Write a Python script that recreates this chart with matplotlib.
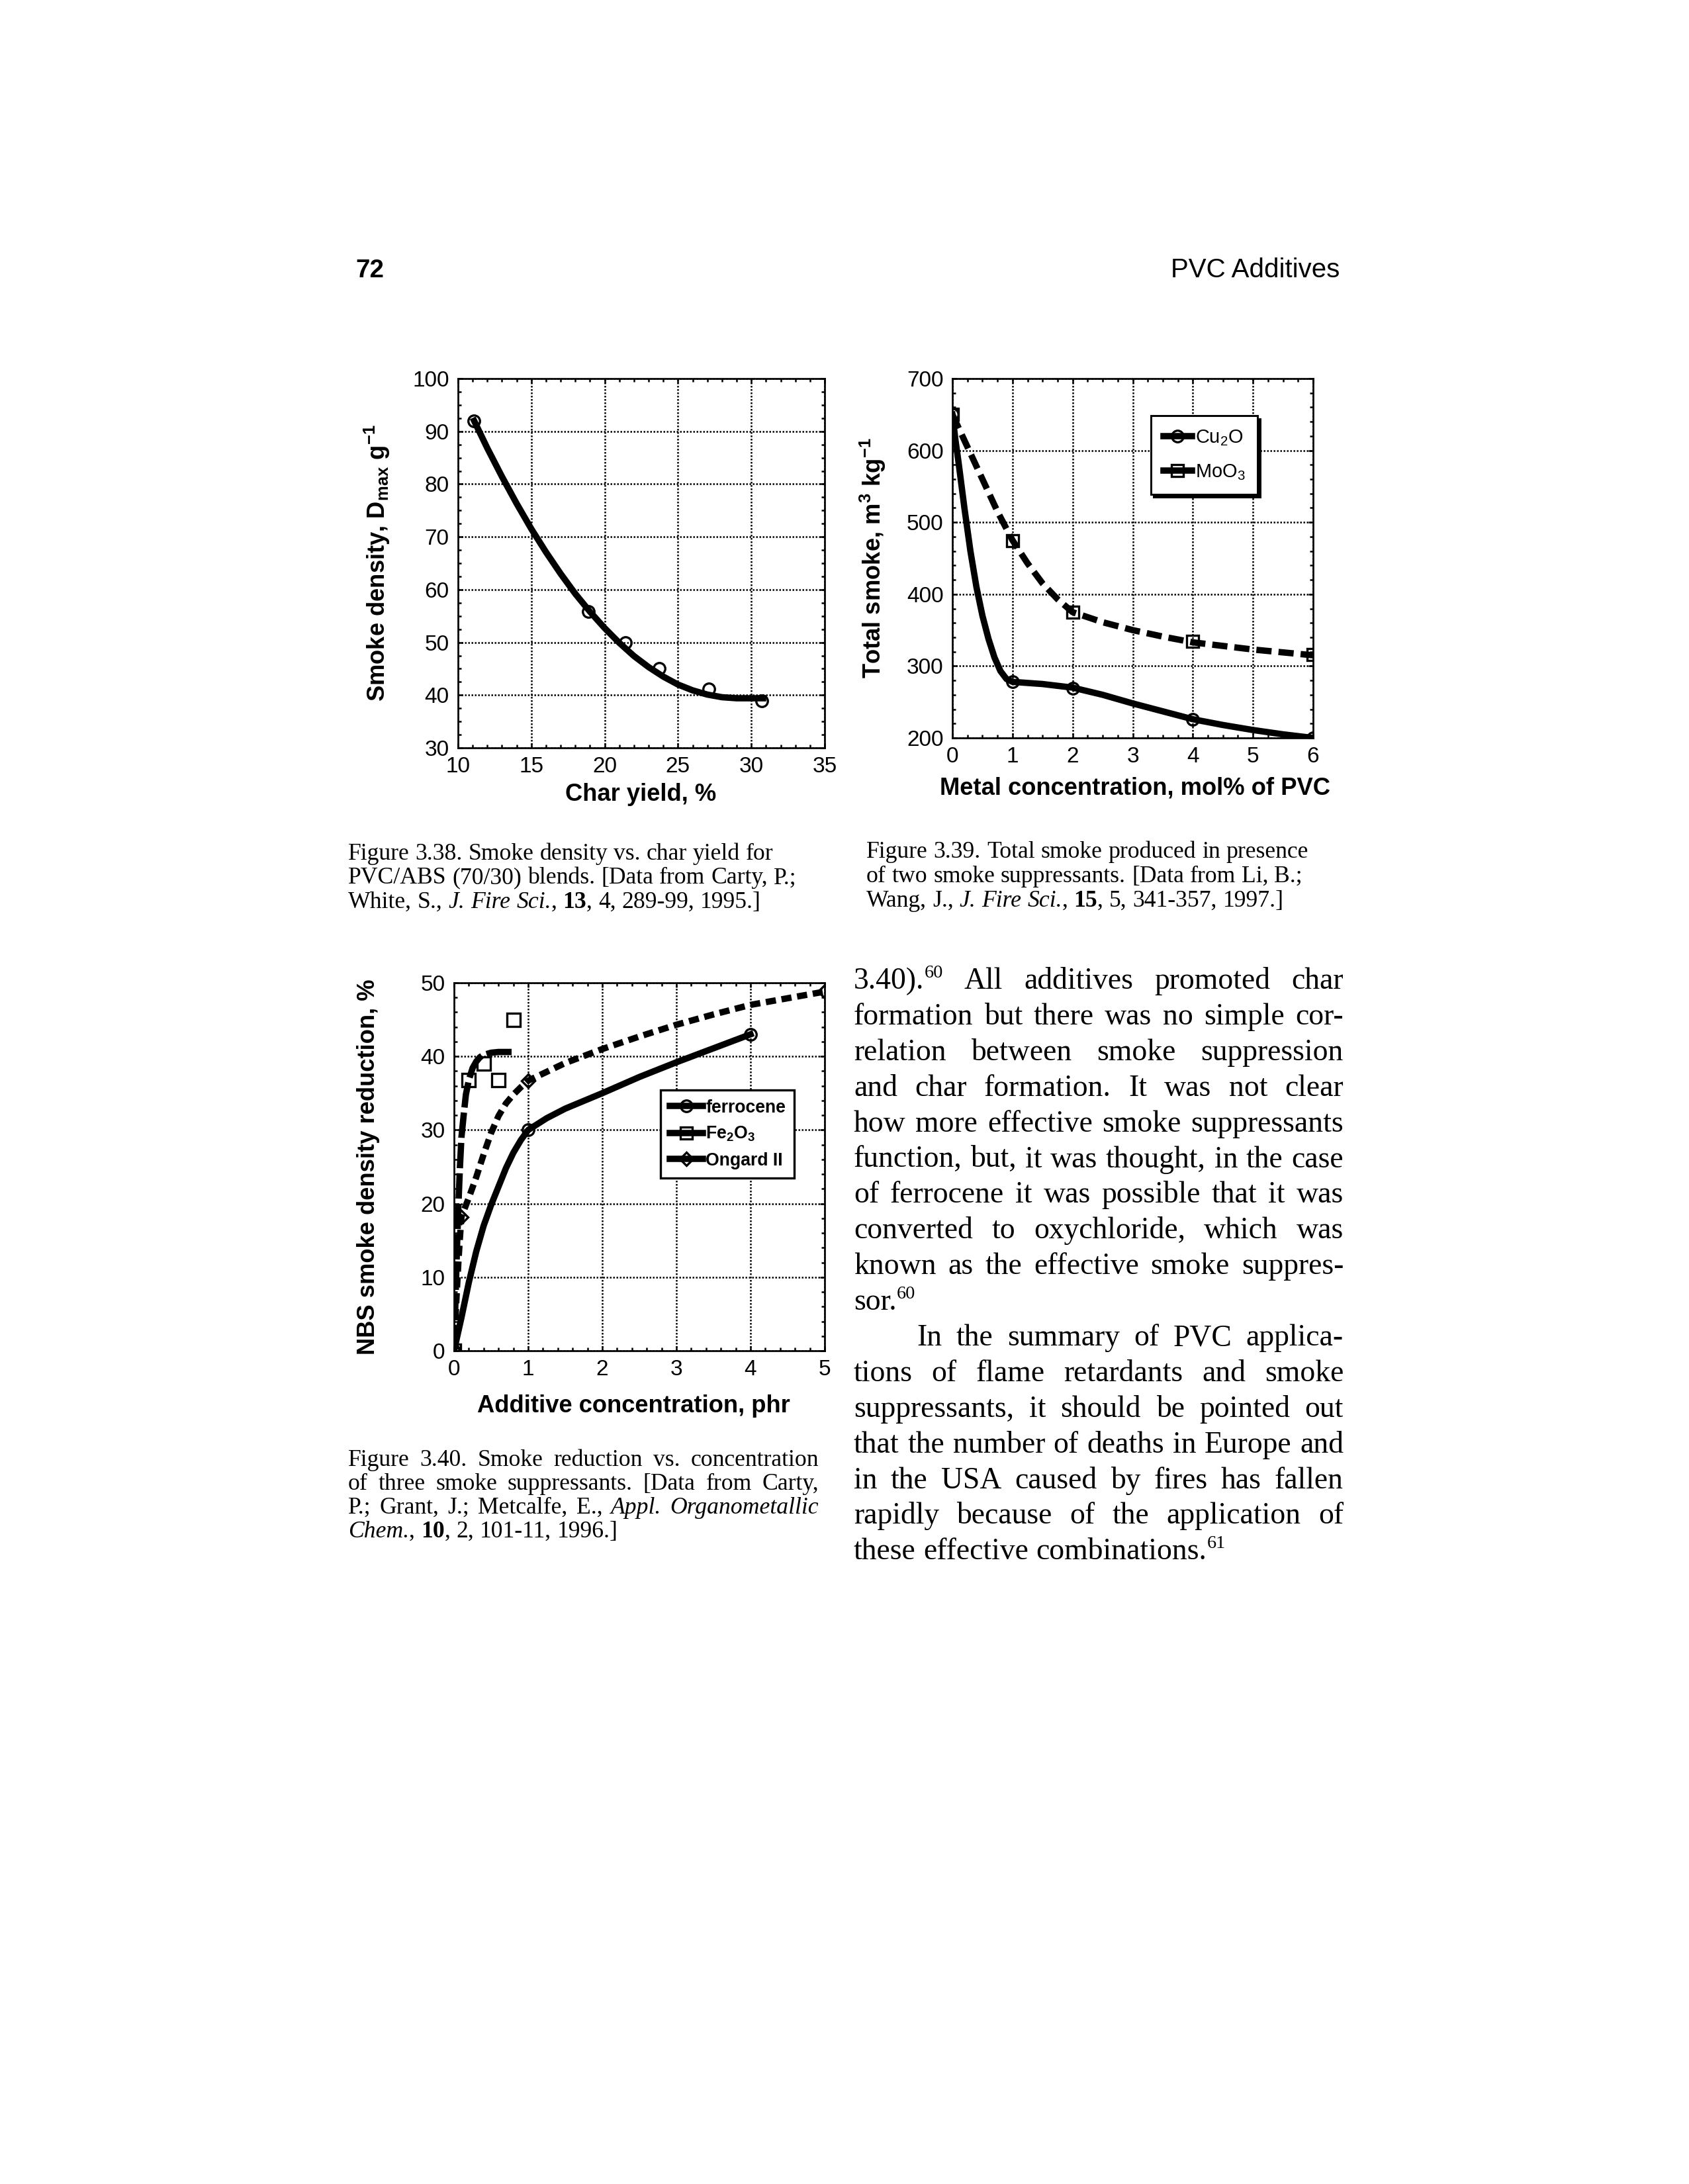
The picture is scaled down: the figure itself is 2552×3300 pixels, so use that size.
import matplotlib
matplotlib.use("Agg")
import matplotlib.pyplot as plt
from matplotlib import font_manager
from matplotlib.ticker import MultipleLocator
from matplotlib.lines import Line2D

W, H, DPI = 2552, 3300, 300

# ---------------- data ----------------
# Figure 3.38 : smoke density vs char yield
char_yield = [11.1, 18.9, 21.4, 23.7, 27.1, 30.7]
smoke_density = [92.0, 55.8, 50.0, 45.0, 41.2, 38.9]
fit38_x = [11.1, 12, 13, 14, 15, 16, 17, 18, 19, 20, 21, 22, 23, 24, 25, 26, 27, 28, 29, 30, 30.8]
fit38_y = [92.0, 86.8, 81.4, 76.3, 71.5, 67.1, 63.0, 59.2, 55.8, 52.7, 49.9, 47.4, 45.3, 43.5,
           42.0, 40.9, 40.1, 39.6, 39.4, 39.4, 39.4]
fig38_xticks = [10, 15, 20, 25, 30, 35]
fig38_yticks = [30, 40, 50, 60, 70, 80, 90, 100]

# Figure 3.39 : total smoke vs metal concentration
metal_conc = [0, 1, 2, 4, 6]
cu2o_smoke = [650, 278, 269, 226, 200]
moo3_smoke = [650, 474, 375, 334, 316]
cu2o_curve_x = [0, 0.05, 0.1, 0.2, 0.3, 0.4, 0.5, 0.6, 0.7, 0.8, 0.9, 1.0, 1.5, 2.0, 2.5, 3.0,
                3.5, 4.0, 4.5, 5.0, 5.5, 6.0]
cu2o_curve_y = [650, 615, 585, 520, 460, 410, 370, 338, 312, 293, 282, 278, 275, 270, 260, 248,
                237, 226, 218, 211, 205, 200]
moo3_curve_x = [0, 0.25, 0.5, 0.75, 1.0, 1.25, 1.5, 1.75, 2.0, 2.5, 3.0, 3.5, 4.0, 4.5, 5.0, 5.5, 6.0]
moo3_curve_y = [650, 605, 560, 515, 475, 443, 415, 393, 375, 361, 350, 341, 333, 328, 323, 319, 315]
fig39_xticks = [0, 1, 2, 3, 4, 5, 6]
fig39_yticks = [200, 300, 400, 500, 600, 700]

# Figure 3.40 : smoke reduction vs additive concentration
ferro_x = [0, 1, 4]
ferro_y = [0, 30.0, 43.0]
ferro_curve_x = [0, 0.1, 0.2, 0.3, 0.4, 0.5, 0.6, 0.7, 0.8, 0.9, 1.0, 1.25, 1.5, 2.0, 2.5, 3.0, 3.5, 4.0]
ferro_curve_y = [0, 4.5, 9.3, 13.5, 17.0, 19.8, 22.3, 24.8, 26.9, 28.6, 30.0, 31.6, 32.9, 35.0,
                 37.2, 39.2, 41.1, 43.0]
fe2o3_x = [0, 0.2, 0.4, 0.6, 0.8]
fe2o3_y = [0, 36.8, 39.0, 36.8, 45.0]
fe2o3_curve_x = [0, 0.02, 0.04, 0.06, 0.08, 0.1, 0.13, 0.16, 0.2, 0.25, 0.3, 0.35, 0.4, 0.5, 0.6, 0.7, 0.8]
fe2o3_curve_y = [0, 7.0, 14.0, 20.0, 25.0, 29.0, 32.0, 34.8, 36.8, 38.4, 39.3, 39.9, 40.2, 40.5,
                 40.6, 40.6, 40.6]
ongard_x = [0, 0.1, 1, 5]
ongard_y = [0, 18.2, 36.7, 48.8]
ongard_curve_x = [0, 0.02, 0.04, 0.06, 0.08, 0.1, 0.15, 0.2, 0.3, 0.4, 0.5, 0.6, 0.7, 0.8, 0.9, 1.0,
                  1.5, 2.0, 2.5, 3.0, 3.5, 4.0, 4.5, 5.0]
ongard_curve_y = [0, 4.5, 8.5, 12.2, 15.4, 18.2, 19.5, 20.8, 23.6, 26.7, 29.6, 31.9, 33.6, 34.8,
                  35.8, 36.7, 39.1, 41.0, 42.7, 44.3, 45.7, 47.0, 47.9, 48.8]
fig40_xticks = [0, 1, 2, 3, 4, 5]
fig40_yticks = [0, 10, 20, 30, 40, 50]

# ---------------- text ----------------
header_left = "72"
header_right = "PVC Additives"
caption38 = ["Figure 3.38. Smoke density vs. char yield for",
             "PVC/ABS (70/30) blends. [Data from Carty, P.;",
             "White, S., *J. Fire Sci.*, #13#, 4, 289-99, 1995.]"]
caption39 = ["Figure 3.39. Total smoke produced in presence",
             "of two smoke suppressants. [Data from Li, B.;",
             "Wang, J., *J. Fire Sci.*, #15#, 5, 341-357, 1997.]"]
caption40 = ["Figure 3.40. Smoke reduction vs. concentration",
             "of three smoke suppressants. [Data from Carty,",
             "P.; Grant, J.; Metcalfe, E., *Appl. Organometallic*",
             "*Chem.*, #10#, 2, 101-11, 1996.]"]
body = ["3.40).^60^ All additives promoted char",
        "formation but there was no simple cor-",
        "relation between smoke suppression",
        "and char formation. It was not clear",
        "how more effective smoke suppressants",
        "function, but, it was thought, in the case",
        "of ferrocene it was possible that it was",
        "converted to oxychloride, which was",
        "known as the effective smoke suppres-",
        "sor.^60^",
        "In the summary of PVC applica-",
        "tions of flame retardants and smoke",
        "suppressants, it should be pointed out",
        "that the number of deaths in Europe and",
        "in the USA caused by fires has fallen",
        "rapidly because of the application of",
        "these effective combinations.^61^"]
body_ragged = {9, 16}
body_indent = {10}

# ---------------- fonts ----------------
names = {f.name for f in font_manager.fontManager.ttflist}
NARROW = "Liberation Sans Narrow" in names
SANS_N = "Liberation Sans Narrow" if NARROW else "Liberation Sans"
NK = 1.0 if NARROW else 0.84
SERIF = "Liberation Serif"

plt.rcParams["font.family"] = ["Liberation Sans", "DejaVu Sans"]
plt.rcParams["mathtext.default"] = "regular"

fig = plt.figure(figsize=(W / DPI, H / DPI), dpi=DPI)
fig.patch.set_facecolor("white")
renderer = fig.canvas.get_renderer()
PT = DPI / 72.0


def fx(x):
    return x / W


def fy(y):
    return 1 - y / H


def axes_px(l, t, r, b):
    ax = fig.add_axes([l / W, 1 - b / H, (r - l) / W, (b - t) / H])
    ax._px = (l, t, r, b)
    return ax


def style(ax, xt, xminor, yt, yminor):
    ax.set_xticks(xt)
    ax.set_yticks(yt)
    ax.xaxis.set_minor_locator(MultipleLocator(xminor))
    ax.yaxis.set_minor_locator(MultipleLocator(yminor))
    ax.tick_params(which="both", direction="in", top=True, right=True, width=0.6,
                   labelsize=8, pad=3.2)
    ax.tick_params(which="major", length=1.6)
    ax.tick_params(which="minor", length=1.3)
    ax.grid(True, which="major", ls=(0, (1, 1)), lw=0.6, color="k")
    for s in ax.spines.values():
        s.set_linewidth(0.65)
    ax.set_axisbelow(False)


def label_px(ax, x, y, text, rot=0, size=10.4):
    l, t, r, b = ax._px
    ax.text((x - l) / (r - l), (b - y) / (b - t), text, transform=ax.transAxes,
            rotation=rot, ha="center", va="center", fontsize=size * NK,
            family=[SANS_N, "DejaVu Sans"], weight="bold", clip_on=False)


MK = dict(mfc="none", mec="k", mew=0.8)

# ---------------- Figure 3.38 ----------------
ax1 = axes_px(692, 572, 1246, 1130)
ax1.plot(fit38_x, fit38_y, color="k", lw=2.3, zorder=3)
ax1.plot(char_yield, smoke_density, ls="none", marker="o", ms=4.2, zorder=4, **MK)
ax1.set_xlim(10, 35)
ax1.set_ylim(30, 100)
style(ax1, fig38_xticks, 1, fig38_yticks, 2.5)
label_px(ax1, 570, 851, r"Smoke density, D$_{max}$ g$^{-1}$", rot=90, size=10.4)
label_px(ax1, 968, 1201, "Char yield, %")

# ---------------- Figure 3.39 ----------------
ax2 = axes_px(1439, 572, 1984, 1115)
ax2.plot(moo3_curve_x, moo3_curve_y, color="k", lw=2.3, ls=(0, (2.4, 1.1)), zorder=3)
ax2.plot(cu2o_curve_x, cu2o_curve_y, color="k", lw=2.3, zorder=3)
ax2.plot(metal_conc, moo3_smoke, ls="none", marker="s", ms=4.4, zorder=4, **MK)
ax2.plot(metal_conc, cu2o_smoke, ls="none", marker="o", ms=4.2, zorder=4, **MK)
ax2.set_xlim(0, 6)
ax2.set_ylim(200, 700)
style(ax2, fig39_xticks, 0.25, fig39_yticks, 20)
label_px(ax2, 1319, 843, r"Total smoke, m$^3$ kg$^{-1}$", rot=90, size=10.4)
label_px(ax2, 1715, 1191, "Metal concentration, mol% of PVC")
h_cu = Line2D([], [], color="k", lw=2.3, marker="o", ms=4.2, **MK)
h_mo = Line2D([], [], color="k", lw=2.3, marker="s", ms=4.4, **MK)
leg2 = ax2.legend([h_cu, h_mo], ["Cu$_2$O", "MoO$_3$"], loc="upper left",
                  bbox_to_anchor=(3.3 / 6, (648 - 200) / 500), borderaxespad=0,
                  prop={"family": [SANS_N, "DejaVu Sans"], "size": 8.3 * NK},
                  handlelength=1.5, handletextpad=0.15, labelspacing=0.8, borderpad=0.65,
                  fancybox=False, framealpha=1, edgecolor="k",
                  shadow={"color": "k", "alpha": 1, "ox": 1.0, "oy": -1.0})
leg2.get_frame().set_linewidth(0.7)

# ---------------- Figure 3.40 ----------------
ax3 = axes_px(686, 1485, 1246, 2041)
ax3.plot(ongard_curve_x, ongard_curve_y, color="k", lw=2.3, ls=(0, (1.6, 0.9)), zorder=3)
ax3.plot(fe2o3_curve_x, fe2o3_curve_y, color="k", lw=2.3, ls=(0, (4.0, 0.8)), zorder=3)
ax3.plot(ferro_curve_x, ferro_curve_y, color="k", lw=2.3, zorder=3)
ax3.plot(ongard_x, ongard_y, ls="none", marker="D", ms=3.3, zorder=4, **MK)
ax3.plot(fe2o3_x, fe2o3_y, ls="none", marker="s", ms=4.8, zorder=4, **MK)
ax3.plot(ferro_x, ferro_y, ls="none", marker="o", ms=4.2, zorder=4, **MK)
ax3.set_xlim(0, 5)
ax3.set_ylim(0, 50)
style(ax3, fig40_xticks, 0.2, fig40_yticks, 2)
label_px(ax3, 557, 1763, "NBS smoke density reduction, %", rot=90, size=10.4)
label_px(ax3, 957, 2125, "Additive concentration, phr")
h_fc = Line2D([], [], color="k", lw=2.3, marker="o", ms=4.2, **MK)
h_fe = Line2D([], [], color="k", lw=2.3, marker="s", ms=4.4, **MK)
h_on = Line2D([], [], color="k", lw=2.3, marker="D", ms=3.3, **MK)
leg3 = ax3.legend([h_fc, h_fe, h_on], ["ferrocene", "Fe$_2$O$_3$", "Ongard II"], loc="upper left",
                  bbox_to_anchor=(2.79 / 5, 35.4 / 50), borderaxespad=0,
                  prop={"family": [SANS_N, "DejaVu Sans"], "size": 7.6 * NK, "weight": "bold"},
                  handlelength=1.9, handletextpad=0.15, labelspacing=0.5, borderpad=0.5,
                  fancybox=False, framealpha=1, edgecolor="k")
leg3.get_frame().set_linewidth(0.8)


# ---------------- rich text helpers ----------------
def parse_rich(line):
    words, word, cur = [], [], ""
    it = bd = sp = False
    for ch in line:
        if ch in "*#^ ":
            if cur:
                word.append((cur, it, bd, sp))
                cur = ""
            if ch == "*":
                it = not it
            elif ch == "#":
                bd = not bd
            elif ch == "^":
                sp = not sp
            elif word:
                words.append(word)
                word = []
        else:
            cur += ch
    if cur:
        word.append((cur, it, bd, sp))
    if word:
        words.append(word)
    return words


def build_line(line, fs, family):
    built = []
    for word in parse_rich(line):
        arts, tot = [], 0.0
        for text, it, bd, sp in word:
            size = fs * 0.62 if sp else fs
            t = fig.text(0, 0, text, fontsize=size, family=family,
                         style="italic" if it else "normal",
                         weight="bold" if bd else "normal", ha="left", va="baseline")
            w = t.get_window_extent(renderer).width
            arts.append((t, tot, sp))
            tot += w
        built.append((arts, tot))
    return built


def natural_width(line, fs, family):
    built = build_line(line, fs, family)
    total = sum(b[1] for b in built) + 0.25 * fs * PT * (len(built) - 1)
    for arts, _ in built:
        for t, _, _ in arts:
            t.remove()
    return total


def draw_line(x, y, line, fs, family, width=None):
    built = build_line(line, fs, family)
    space = 0.25 * fs * PT
    if width is not None and len(built) > 1:
        space = (width - sum(b[1] for b in built)) / (len(built) - 1)
    cx = x
    for arts, tot in built:
        for t, off, sp in arts:
            yy = y - (0.38 * fs * PT if sp else 0)
            t.set_position((fx(cx + off), fy(yy)))
        cx += tot + space


# ---------------- header ----------------
fig.text(fx(537), fy(419), header_left, family=[SANS_N, "DejaVu Sans"], fontsize=11 * NK,
         weight="bold", ha="left", va="baseline")
fig.text(fx(2024), fy(419), header_right, family=[SANS_N, "DejaVu Sans"], fontsize=11.5 * NK,
         ha="right", va="baseline")

# ---------------- captions ----------------
cap_fs = 8.0 * 679 / natural_width(caption38[1], 8.0, SERIF)
for i, ln in enumerate(caption38):
    draw_line(526, 1299 + 36.4 * i, ln, cap_fs, SERIF)
for i, ln in enumerate(caption39):
    draw_line(1309, 1296 + 37.0 * i, ln, cap_fs, SERIF)
for i, ln in enumerate(caption40):
    draw_line(526, 2215 + 36.0 * i, ln, cap_fs, SERIF, width=711 if i < 3 else None)

# ---------------- body text ----------------
BX0, BX1 = 1290, 2030
worst = max(natural_width(ln, 11.0, SERIF) / (BX1 - BX0 - (95 if i in body_indent else 0))
            for i, ln in enumerate(body) if i not in body_ragged)
body_fs = min(11.5, 11.0 / worst * 0.99)
for i, ln in enumerate(body):
    x0 = BX0 + (95 if i in body_indent else 0)
    y = 1494 + 53.9 * i
    draw_line(x0, y, ln, body_fs, SERIF, width=None if i in body_ragged else BX1 - x0)

fig.savefig("out.png", dpi=DPI, facecolor="white")
